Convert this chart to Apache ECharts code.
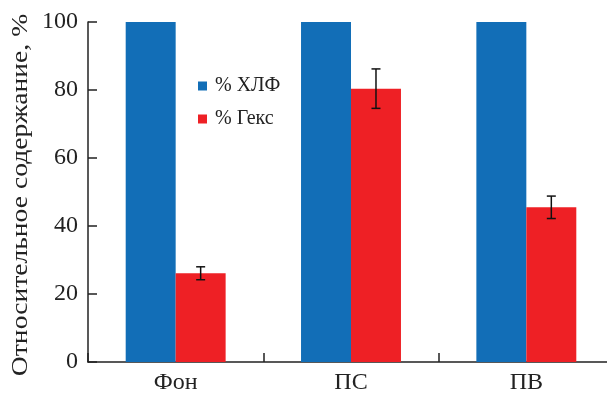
<!DOCTYPE html>
<html>
<head>
<meta charset="utf-8">
<script src="https://cdn.jsdelivr.net/npm/echarts@6/dist/echarts.min.js"></script>
<style>
html,body{margin:0;padding:0;background:#fff;}
#chart{width:607px;height:393px;}
</style>
</head>
<body>
<div id="chart"></div>
<script>
// Categories and measured values
const categories = ['Фон', 'ПС', 'ПВ'];
const chlValues = [100, 100, 100];          // % ХЛФ
const hexValues = [26.1, 80.4, 45.5];       // % Гекс
const hexErrors = [1.9, 5.8, 3.3];          // ± error of % Гекс
const yTicks = [0, 20, 40, 60, 80, 100];
const yTitle = 'Относительное содержание, %';

const FONT = '"Liberation Serif", "DejaVu Serif", serif';
const BLUE = '#126EB7';
const RED = '#EE2025';
const AXIS = '#222';

const errorData = categories.map((c, i) => [i, hexValues[i] - hexErrors[i], hexValues[i] + hexErrors[i]]);

const chart = echarts.init(document.getElementById('chart'), null, {renderer: 'canvas'});

chart.setOption({
  animation: false,
  backgroundColor: '#fff',
  grid: {left: 88, top: 22, width: 526, height: 340, containLabel: false, outerBoundsMode: 'none'},
  legend: {
    left: 193, top: 71, orient: 'vertical', itemGap: 13,
    itemWidth: 9, itemHeight: 9, icon: 'rect',
    textStyle: {fontFamily: FONT, fontSize: 20, color: '#222', padding: [0, 0, 0, 3]},
    data: ['% ХЛФ', '% Гекс']
  },
  // vertical axis title, widened along its reading direction
  graphic: [{
    type: 'text',
    x: 21, y: 195,
    rotation: Math.PI / 2,
    scaleX: 1.2,
    style: {
      text: yTitle,
      font: '23px ' + FONT,
      fill: '#222',
      textAlign: 'center',
      textVerticalAlign: 'middle'
    }
  }],
  xAxis: {
    type: 'category',
    data: categories,
    axisLine: {lineStyle: {color: AXIS, width: 1.5}},
    axisTick: {show: true, inside: true, length: 9, lineStyle: {color: AXIS, width: 1.5}},
    axisLabel: {fontFamily: FONT, fontSize: 24, color: '#222', margin: 9}
  },
  yAxis: {
    type: 'value',
    min: yTicks[0], max: yTicks[yTicks.length - 1], interval: 20,
    axisLine: {show: true, lineStyle: {color: AXIS, width: 1.5}},
    axisTick: {show: true, inside: true, length: 9, lineStyle: {color: AXIS, width: 1.5}},
    axisLabel: {fontFamily: FONT, fontSize: 24, color: '#222', margin: 10},
    splitLine: {show: false}
  },
  series: [
    {
      name: '% ХЛФ', type: 'bar', data: chlValues,
      itemStyle: {color: BLUE},
      barGap: '0%', barCategoryGap: '43%'
    },
    {
      name: '% Гекс', type: 'bar', data: hexValues,
      itemStyle: {color: RED},
      barGap: '0%', barCategoryGap: '43%'
    },
    {
      name: 'err', type: 'custom', data: errorData,
      z: 10,
      renderItem: function (params, api) {
        const idx = api.value(0);
        const lo = api.coord([idx, api.value(1)]);
        const hi = api.coord([idx, api.value(2)]);
        const bandW = api.size([1, 0])[0];
        const barW = bandW * 0.57 / 2;
        const x = lo[0] + barW / 2;
        const cap = 4.5;
        const style = {stroke: '#111', lineWidth: 1.5};
        return {
          type: 'group',
          children: [
            {type: 'line', shape: {x1: x, y1: hi[1], x2: x, y2: lo[1]}, style: style},
            {type: 'line', shape: {x1: x - cap, y1: hi[1], x2: x + cap, y2: hi[1]}, style: style},
            {type: 'line', shape: {x1: x - cap, y1: lo[1], x2: x + cap, y2: lo[1]}, style: style}
          ]
        };
      }
    }
  ]
});
</script>
</body>
</html>
